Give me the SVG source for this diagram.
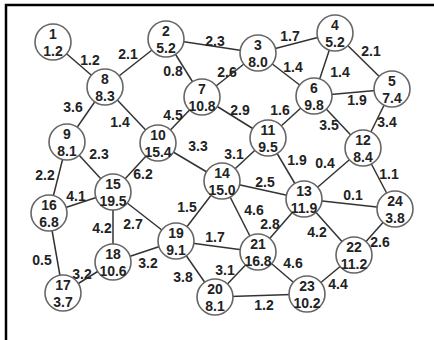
<svg xmlns="http://www.w3.org/2000/svg" width="434" height="340" viewBox="0 0 434 340">
<style>
.e line{stroke:#333;stroke-width:1.5}
.n circle{fill:#fff;stroke:#666;stroke-width:1.6}
text{font-family:"Liberation Sans",Arial,sans-serif;font-weight:bold;font-size:14px;fill:#222;text-anchor:middle}
</style>
<rect width="434" height="340" fill="#fff"/>
<path d="M6 340 V5 H434" fill="none" stroke="#000" stroke-width="2.5"/>
<g class="e" id="edges">
<line x1="53" y1="42" x2="105" y2="87"/>
<line x1="166" y1="39" x2="105" y2="87"/>
<line x1="166" y1="39" x2="258" y2="53"/>
<line x1="166" y1="39" x2="202" y2="97"/>
<line x1="258" y1="53" x2="335" y2="33"/>
<line x1="258" y1="53" x2="202" y2="97"/>
<line x1="258" y1="53" x2="314" y2="96"/>
<line x1="335" y1="33" x2="314" y2="96"/>
<line x1="335" y1="33" x2="392" y2="89"/>
<line x1="314" y1="96" x2="392" y2="89"/>
<line x1="314" y1="96" x2="268" y2="138"/>
<line x1="314" y1="96" x2="363" y2="148"/>
<line x1="392" y1="89" x2="363" y2="148"/>
<line x1="202" y1="97" x2="158" y2="143"/>
<line x1="202" y1="97" x2="268" y2="138"/>
<line x1="105" y1="87" x2="67" y2="142"/>
<line x1="105" y1="87" x2="158" y2="143"/>
<line x1="67" y1="142" x2="113" y2="192"/>
<line x1="67" y1="142" x2="49" y2="213"/>
<line x1="158" y1="143" x2="222" y2="181"/>
<line x1="158" y1="143" x2="113" y2="192"/>
<line x1="268" y1="138" x2="222" y2="181"/>
<line x1="268" y1="138" x2="304" y2="199"/>
<line x1="363" y1="148" x2="304" y2="199"/>
<line x1="363" y1="148" x2="395" y2="209"/>
<line x1="304" y1="199" x2="395" y2="209"/>
<line x1="304" y1="199" x2="222" y2="181"/>
<line x1="304" y1="199" x2="258" y2="252"/>
<line x1="304" y1="199" x2="354" y2="255"/>
<line x1="222" y1="181" x2="176" y2="241"/>
<line x1="222" y1="181" x2="258" y2="252"/>
<line x1="113" y1="192" x2="49" y2="213"/>
<line x1="113" y1="192" x2="113" y2="262"/>
<line x1="113" y1="192" x2="176" y2="241"/>
<line x1="49" y1="213" x2="63" y2="293"/>
<line x1="63" y1="293" x2="113" y2="262"/>
<line x1="113" y1="262" x2="176" y2="241"/>
<line x1="176" y1="241" x2="258" y2="252"/>
<line x1="176" y1="241" x2="215" y2="297"/>
<line x1="215" y1="297" x2="258" y2="252"/>
<line x1="215" y1="297" x2="307" y2="294"/>
<line x1="258" y1="252" x2="307" y2="294"/>
<line x1="354" y1="255" x2="307" y2="294"/>
<line x1="354" y1="255" x2="395" y2="209"/>
</g>
<g id="edge-labels">
<text x="90" y="65">1.2</text>
<text x="128" y="59">2.1</text>
<text x="215" y="46">2.3</text>
<text x="173" y="76">0.8</text>
<text x="290" y="41">1.7</text>
<text x="227" y="77">2.6</text>
<text x="293" y="72">1.4</text>
<text x="340" y="77">1.4</text>
<text x="371" y="56">2.1</text>
<text x="357" y="105">1.9</text>
<text x="280" y="115">1.6</text>
<text x="329" y="130">3.5</text>
<text x="387" y="127">3.4</text>
<text x="173" y="120">4.5</text>
<text x="240" y="115">2.9</text>
<text x="73" y="112">3.6</text>
<text x="120" y="127">1.4</text>
<text x="99" y="159">2.3</text>
<text x="45" y="180">2.2</text>
<text x="198" y="151">3.3</text>
<text x="143" y="179">6.2</text>
<text x="234" y="159">3.1</text>
<text x="297" y="165">1.9</text>
<text x="325" y="168">0.4</text>
<text x="389" y="179">1.1</text>
<text x="353" y="200">0.1</text>
<text x="265" y="187">2.5</text>
<text x="270" y="229">2.8</text>
<text x="317" y="237">4.2</text>
<text x="187" y="212">1.5</text>
<text x="254" y="215">4.6</text>
<text x="76" y="201">4.1</text>
<text x="102" y="233">4.2</text>
<text x="133" y="229">2.7</text>
<text x="42" y="265">0.5</text>
<text x="82" y="279">3.2</text>
<text x="148" y="268">3.2</text>
<text x="215" y="242">1.7</text>
<text x="183" y="282">3.8</text>
<text x="225" y="275">3.1</text>
<text x="264" y="310">1.2</text>
<text x="293" y="268">4.6</text>
<text x="338" y="289">4.4</text>
<text x="380" y="247">2.6</text>
</g>
<g class="n" id="n1"><circle cx="53" cy="42" r="18"/><text x="53" y="39">1</text><text x="53" y="56">1.2</text></g>
<g class="n" id="n2"><circle cx="166" cy="39" r="18"/><text x="166" y="36">2</text><text x="166" y="53">5.2</text></g>
<g class="n" id="n3"><circle cx="258" cy="53" r="18"/><text x="258" y="50">3</text><text x="258" y="67">8.0</text></g>
<g class="n" id="n4"><circle cx="335" cy="33" r="18"/><text x="335" y="30">4</text><text x="335" y="47">5.2</text></g>
<g class="n" id="n5"><circle cx="392" cy="89" r="18"/><text x="392" y="86">5</text><text x="392" y="103">7.4</text></g>
<g class="n" id="n6"><circle cx="314" cy="96" r="18"/><text x="314" y="93">6</text><text x="314" y="110">9.8</text></g>
<g class="n" id="n7"><circle cx="202" cy="97" r="18"/><text x="202" y="94">7</text><text x="202" y="111">10.8</text></g>
<g class="n" id="n8"><circle cx="105" cy="87" r="18"/><text x="105" y="84">8</text><text x="105" y="101">8.3</text></g>
<g class="n" id="n9"><circle cx="67" cy="142" r="18"/><text x="67" y="139">9</text><text x="67" y="156">8.1</text></g>
<g class="n" id="n10"><circle cx="158" cy="143" r="18"/><text x="158" y="140">10</text><text x="158" y="157">15.4</text></g>
<g class="n" id="n11"><circle cx="268" cy="138" r="18"/><text x="268" y="135">11</text><text x="268" y="152">9.5</text></g>
<g class="n" id="n12"><circle cx="363" cy="148" r="18"/><text x="363" y="145">12</text><text x="363" y="162">8.4</text></g>
<g class="n" id="n13"><circle cx="304" cy="199" r="18"/><text x="304" y="196">13</text><text x="304" y="213">11.9</text></g>
<g class="n" id="n14"><circle cx="222" cy="181" r="18"/><text x="222" y="178">14</text><text x="222" y="195">15.0</text></g>
<g class="n" id="n15"><circle cx="113" cy="192" r="18"/><text x="113" y="189">15</text><text x="113" y="206">19.5</text></g>
<g class="n" id="n16"><circle cx="49" cy="213" r="18"/><text x="49" y="210">16</text><text x="49" y="227">6.8</text></g>
<g class="n" id="n17"><circle cx="63" cy="293" r="18"/><text x="63" y="290">17</text><text x="63" y="307">3.7</text></g>
<g class="n" id="n18"><circle cx="113" cy="262" r="18"/><text x="113" y="259">18</text><text x="113" y="276">10.6</text></g>
<g class="n" id="n19"><circle cx="176" cy="241" r="18"/><text x="176" y="238">19</text><text x="176" y="255">9.1</text></g>
<g class="n" id="n20"><circle cx="215" cy="297" r="18"/><text x="215" y="294">20</text><text x="215" y="311">8.1</text></g>
<g class="n" id="n21"><circle cx="258" cy="252" r="18"/><text x="258" y="249">21</text><text x="258" y="266">16.8</text></g>
<g class="n" id="n22"><circle cx="354" cy="255" r="18"/><text x="354" y="252">22</text><text x="354" y="269">11.2</text></g>
<g class="n" id="n23"><circle cx="307" cy="294" r="18"/><text x="307" y="291">23</text><text x="307" y="308">10.2</text></g>
<g class="n" id="n24"><circle cx="395" cy="209" r="18"/><text x="395" y="206">24</text><text x="395" y="223">3.8</text></g>
</svg>
